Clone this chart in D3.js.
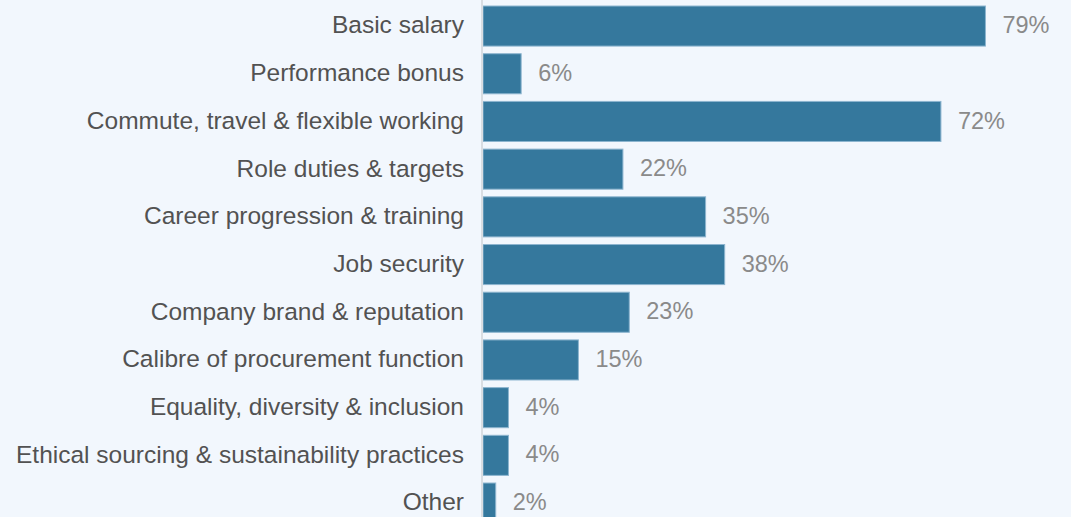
<!DOCTYPE html>
<html>
<head>
<meta charset="utf-8">
<script src="https://cdn.jsdelivr.net/npm/d3@7"></script>
<style>
  html, body { margin: 0; padding: 0; background: #f2f7fd; }
  svg { display: block; }
</style>
</head>
<body>
<svg id="chart" width="1071" height="517"></svg>
<script>
// Survey categories and share of respondents (%)
const categories = [
  "Basic salary",
  "Performance bonus",
  "Commute, travel & flexible working",
  "Role duties & targets",
  "Career progression & training",
  "Job security",
  "Company brand & reputation",
  "Calibre of procurement function",
  "Equality, diversity & inclusion",
  "Ethical sourcing & sustainability practices",
  "Other"
];
const values = [79, 6, 72, 22, 35, 38, 23, 15, 4, 4, 2];
const valueLabels = ["79%", "6%", "72%", "22%", "35%", "38%", "23%", "15%", "4%", "4%", "2%"];

const data = categories.map((c, i) => ({ category: c, value: values[i], label: valueLabels[i] }));

const svg = d3.select("#chart");
const width = 1071, height = 517;
const left = 483;
const font = "'Liberation Sans', Arial, sans-serif";

svg.append("rect").attr("width", width).attr("height", height).attr("fill", "#f2f7fd");

const x = d3.scaleLinear().domain([0, 100]).range([left, left + 636]);
const y = d3.scaleBand()
  .domain(categories)
  .range([2.2, 2.2 + 47.7 * categories.length])
  .paddingInner(0.16)
  .paddingOuter(0.08);

// Bars
svg.append("g")
  .selectAll("rect")
  .data(data)
  .join("rect")
  .attr("x", x(0))
  .attr("y", d => y(d.category))
  .attr("width", d => x(d.value) - x(0))
  .attr("height", y.bandwidth())
  .attr("fill", "#35789d")
  .attr("stroke", "#8db5cf")
  .attr("stroke-width", 1);

// Category axis
const yAxis = d3.axisLeft(y).tickSize(0).tickPadding(18);
const gy = svg.append("g")
  .attr("transform", `translate(${left - 1},0)`)
  .call(yAxis);
gy.select(".domain").remove();
gy.append("line")
  .attr("x1", 0).attr("x2", 0)
  .attr("y1", 0).attr("y2", height)
  .attr("stroke", "#d9dde2")
  .attr("stroke-width", 2);
gy.selectAll("text")
  .attr("dy", "0.3em")
  .attr("font-family", font)
  .attr("font-size", 24.5)
  .attr("fill", "#525252");

// Value labels
svg.append("g")
  .selectAll("text")
  .data(data)
  .join("text")
  .attr("x", d => x(d.value) + 17)
  .attr("y", d => y(d.category) + y.bandwidth() / 2)
  .attr("dy", "0.3em")
  .attr("font-family", font)
  .attr("font-size", 23.5)
  .attr("fill", "#8a8a8a")
  .text(d => d.label);
</script>
</body>
</html>
